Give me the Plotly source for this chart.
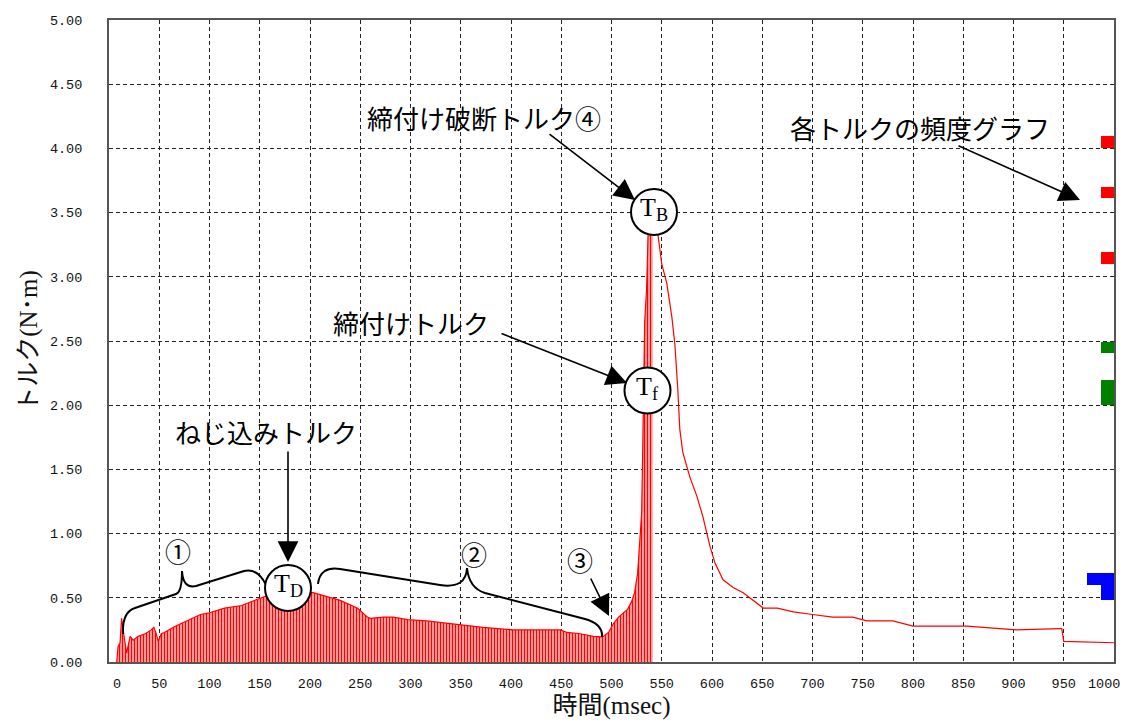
import plotly.graph_objects as go

# ---------------- data ----------------
# screw-in / tightening phase, drawn as dense bars (ms, N·m)
t_ramp = [7.7, 9, 11, 12.5, 15, 17.5, 21, 24, 29, 36, 42, 44.6, 47, 49, 52, 55, 65,
          72, 82, 91, 98.5, 115, 132, 145, 155, 170, 185, 195, 203, 217, 223, 230,
          247, 250, 257, 260, 273, 283, 297, 316, 339, 356, 372, 402, 436, 449,
          456, 469, 482, 491, 497, 502, 507, 512, 516, 520, 523, 526, 528, 530,
          531, 532, 533, 535, 536, 537.5, 541]
T_ramp = [0.0, 0.12, 0.15, 0.34, 0.20, 0.07, 0.20, 0.17, 0.20, 0.22, 0.25, 0.27,
          0.22, 0.16, 0.22, 0.23, 0.275, 0.30, 0.34, 0.37, 0.38, 0.42, 0.44, 0.48,
          0.51, 0.53, 0.54, 0.55, 0.54, 0.51, 0.50, 0.48, 0.42, 0.40, 0.35, 0.34,
          0.35, 0.35, 0.33, 0.32, 0.30, 0.28, 0.27, 0.25, 0.25, 0.25, 0.23, 0.22,
          0.20, 0.195, 0.23, 0.30, 0.35, 0.38, 0.41, 0.47, 0.54, 0.69, 0.90, 1.16,
          1.63, 2.20, 2.64, 2.92, 3.31, 3.66, 3.66]
# release phase after breaking torque, drawn as a line
t_decay = [541, 544, 546, 550, 555, 560, 563, 566, 568, 571, 578, 585, 591, 598,
           603, 611, 621, 631, 641, 651, 665, 681, 700, 720, 740, 754, 780, 800,
           820, 854, 870, 903, 946, 948, 950, 986, 1000]
T_decay = [3.66, 3.45, 3.34, 3.10, 2.95, 2.69, 2.48, 2.12, 1.81, 1.63, 1.44, 1.29,
           1.13, 0.90, 0.77, 0.64, 0.58, 0.54, 0.48, 0.42, 0.42, 0.39, 0.37, 0.35,
           0.35, 0.32, 0.32, 0.28, 0.28, 0.28, 0.27, 0.25, 0.26, 0.26, 0.16, 0.15,
           0.15]
# frequency graph of each torque (bin centre, bin span, count)
hist_center = [4.05, 3.655, 3.145, 2.45, 2.10, 0.645, 0.54]
hist_span = [0.10, 0.09, 0.09, 0.08, 0.20, 0.09, 0.12]
hist_count = [1, 1, 1, 1, 1, 2, 1]
hist_color = ["#ff0000", "#ff0000", "#ff0000", "#008000", "#008000", "#0000ff", "#0000ff"]

x_ticks = list(range(0, 1001, 50))
x_tick_text = [str(v) for v in x_ticks]
y_ticks = [i * 0.5 for i in range(11)]
y_tick_text = [f"{v:.2f}" for v in y_ticks]

# end labels sit inside the frame in the reference: the first one is padded,
# the last one is drawn as an annotation right-aligned to the frame
NB = "\u00a0"
x_tick_labels = list(x_tick_text)
x_tick_labels[0] = NB + NB + x_tick_labels[0]
last_tick_label = x_tick_labels[-1]
x_tick_labels[-1] = ""

# ---------------- geometry ----------------
# The page body has an 8px margin, so the figure is drawn 8px smaller and
# everything is placed in reference-pixel coordinates minus that offset.
OFF = 8
W, H = 1132 - OFF, 720 - OFF
L, R, TOP, BOT = 109 - OFF, 1114 - OFF, 20 - OFF, 662 - OFF
XMAX, YMAX = 1000.0, 5.0


def px(x):
    """reference-image x pixel -> data x"""
    return (x - OFF - L) / (R - L) * XMAX


def py(y):
    """reference-image y pixel -> data y"""
    return (BOT - (y - OFF)) / (BOT - TOP) * YMAX


def path(cmds):
    out = []
    for c in cmds:
        op, pts = c[0], c[1:]
        coords = " ".join(f"{px(pts[i]):.2f},{py(pts[i+1]):.4f}" for i in range(0, len(pts), 2))
        out.append(f"{op} {coords}")
    return " ".join(out)


SERIF = "Liberation Serif, Noto Sans CJK JP, serif"
MONO = "Liberation Mono, DejaVu Sans Mono, monospace"
TICKFONT = dict(family=MONO, size=13.5, color="#111")

fig = go.Figure()

fig.add_trace(go.Scatter(
    x=t_ramp, y=T_ramp, mode="lines",
    line=dict(color="#ff0000", width=1.2),
    fill="tozeroy",
    fillcolor="rgba(0,0,0,0)",
    fillpattern=dict(shape="|", fgcolor="#ff0000", bgcolor="white",
                     size=3, solidity=0.6, fillmode="replace"),
    hoverinfo="skip", showlegend=False,
))
fig.add_trace(go.Scatter(
    x=t_decay, y=T_decay, mode="lines",
    line=dict(color="#ff0000", width=1.2),
    hoverinfo="skip", showlegend=False,
))
fig.add_trace(go.Bar(
    x=hist_count, y=hist_center, width=hist_span, orientation="h",
    marker=dict(color=hist_color, line=dict(width=0)),
    xaxis="x2", yaxis="y", hoverinfo="skip", showlegend=False,
))

fig.update_layout(
    width=W, height=H,
    margin=dict(l=L, r=W - R, t=TOP, b=H - BOT, pad=0),
    paper_bgcolor="white", plot_bgcolor="white",
    xaxis=dict(
        range=[0, XMAX], tickvals=x_ticks, ticktext=x_tick_labels,
        showgrid=True, gridcolor="#222", griddash="4px,3px", gridwidth=1,
        zeroline=False, showline=True, linecolor="#555", linewidth=2, mirror=True,
        ticks="", ticklabelstandoff=8, automargin=False,
        tickfont=TICKFONT,
        title=dict(text="時間(msec)", font=dict(family=SERIF, size=25, color="#111"),
                   standoff=2),
    ),
    xaxis2=dict(
        overlaying="x", anchor="y", range=[(R - L) / 13.3, 0],
        visible=False, showgrid=False, zeroline=False,
    ),
    yaxis=dict(
        range=[0, YMAX], tickvals=y_ticks, ticktext=y_tick_text,
        showgrid=True, gridcolor="#222", griddash="4px,3px", gridwidth=1,
        zeroline=False, showline=True, linecolor="#555", linewidth=2, mirror=True,
        ticks="", ticklabelstandoff=22, automargin=False,
        tickfont=TICKFONT,
        title=dict(text="トルク(N･m)", font=dict(family=SERIF, size=25, color="#111"),
                   standoff=5),
    ),
    bargap=0,
)

# ---- braces ① and ② (reference pixel coordinates) ----
brace1 = path([
    ("M", 123, 634),
    ("Q", 122, 612, 135, 608),
    ("L", 176, 594),
    ("Q", 182, 592, 182, 571),
    ("Q", 183, 589, 196, 586),
    ("L", 244, 571),
    ("Q", 258, 568, 266, 585),
])
brace2 = path([
    ("M", 318, 584),
    ("Q", 320, 566, 340, 569),
    ("L", 440, 585),
    ("Q", 466, 589, 467, 568),
    ("Q", 469, 588, 485, 593),
    ("L", 585, 619),
    ("Q", 603, 624, 602, 637),
])
shapes = [
    dict(type="path", path=brace1, xref="x", yref="y",
         line=dict(color="black", width=2), layer="above"),
    dict(type="path", path=brace2, xref="x", yref="y",
         line=dict(color="black", width=2), layer="above"),
]

annotations = [
    # last x tick label, right-aligned inside the frame
    dict(x=x_ticks[-1], y=0, xref="x", yref="y", showarrow=False,
         text=last_tick_label, font=TICKFONT,
         xanchor="right", yanchor="middle", xshift=8, yshift=-22),
]

# ---- circles T_B, T_f, T_D ----
circles = [("B", 654, 212), ("f", 647.5, 390.5), ("D", 288, 588)]
for sub, cx, cy in circles:
    shapes.append(dict(
        type="circle", xref="x", yref="y", xsizemode="pixel", ysizemode="pixel",
        xanchor=px(cx), yanchor=py(cy), x0=-23, x1=23, y0=-23, y1=23,
        fillcolor="white", line=dict(color="black", width=2), layer="above",
    ))
    annotations.append(dict(
        x=px(cx), y=py(cy), xref="x", yref="y", showarrow=False,
        text=f"T<sub>{sub}</sub>", font=dict(family=SERIF, size=26, color="black"),
        xanchor="center", yanchor="middle", yshift=3,
    ))

# ---- labels ----
labels = [
    ("締付け破断トルク④", 484, 120),
    ("各トルクの頻度グラフ", 920, 130),
    ("締付けトルク", 411, 325),
    ("ねじ込みトルク", 266, 434),
    ("①", 178, 553),
    ("②", 474, 556),
    ("③", 580, 562),
]
for txt, x, y in labels:
    annotations.append(dict(
        x=px(x), y=py(y), xref="x", yref="y", showarrow=False, text=txt,
        font=dict(family=SERIF, size=26, color="black"),
        xanchor="center", yanchor="middle",
    ))

# ---- arrows (tail -> tip, reference pixels) ----
arrows = [
    ((548, 133), (635, 200)),
    ((500, 333), (627, 383)),
    ((957, 145), (1080, 200)),
    ((288, 450), (288, 562)),
    ((590, 577), (609, 616)),
]
for (tx, ty), (hx, hy) in arrows:
    annotations.append(dict(
        x=px(hx), y=py(hy), ax=px(tx), ay=py(ty), xref="x", yref="y",
        axref="x", ayref="y", text="", showarrow=True,
        arrowhead=2, arrowsize=2.6, arrowwidth=1.6, arrowcolor="black", standoff=0,
    ))

fig.update_layout(shapes=shapes, annotations=annotations)

fig.write_html("out.html")
